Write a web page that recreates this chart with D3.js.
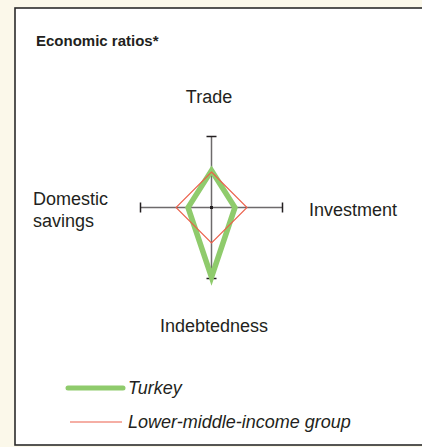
<!DOCTYPE html>
<html>
<head>
<meta charset="utf-8">
<script src="https://cdn.jsdelivr.net/npm/d3@7"></script>
<style>
  html, body { margin: 0; padding: 0; background: #fbf8ea; }
  svg { display: block; font-family: "Liberation Sans", Arial, sans-serif; }
</style>
</head>
<body>
<svg id="chart" width="422" height="447"></svg>
<script>
// data (share of axis length, 1 = end tick)
const axes = ["Trade", "Investment", "Indebtedness", "Domestic savings"];
const turkey = [0.52, 0.33, 0.98, 0.33];
const lowerMiddle = [0.5, 0.5, 0.5, 0.5];
const legendLabels = ["Turkey", "Lower-middle-income group"];

const svg = d3.select("#chart");

// white panel with dark border on left, top and bottom
svg.append("rect")
  .attr("x", 15).attr("y", 8)
  .attr("width", 430).attr("height", 437)
  .attr("fill", "#fff")
  .attr("stroke", "#2b2b2b")
  .attr("stroke-width", 1.6);

svg.append("text")
  .attr("x", 36).attr("y", 46)
  .attr("font-size", 15).attr("font-weight", "bold")
  .attr("fill", "#231f20")
  .text("Economic ratios*");

const cx = 211.5, cy = 207.5;
const r = d3.scaleLinear().domain([0, 1]).range([0, 71]);
// clockwise from top
const angle = d3.scalePoint().domain(axes).range([0, 270]);

function pt(name, v) {
  const a = angle(name) * Math.PI / 180;
  return [cx + r(v) * Math.sin(a), cy - r(v) * Math.cos(a)];
}

// axes with end caps
const g = svg.append("g");
axes.forEach(name => {
  const end = pt(name, 1);
  g.append("line")
    .attr("x1", cx).attr("y1", cy)
    .attr("x2", end[0]).attr("y2", end[1])
    .attr("stroke", "#6d6a6b").attr("stroke-width", 1.5);
  const a = angle(name) * Math.PI / 180;
  const dx = 5 * Math.cos(a), dy = 5 * Math.sin(a);
  g.append("line")
    .attr("x1", end[0] - dx).attr("y1", end[1] - dy)
    .attr("x2", end[0] + dx).attr("y2", end[1] + dy)
    .attr("stroke", "#231f20").attr("stroke-width", 1.5);
});

const line = d3.line().curve(d3.curveLinearClosed);

svg.append("path")
  .attr("d", line(axes.map((a, i) => pt(a, turkey[i]))))
  .attr("fill", "none")
  .attr("stroke", "#8fcb6c")
  .attr("stroke-width", 5.5)
  .attr("stroke-linejoin", "miter");

svg.append("path")
  .attr("d", line(axes.map((a, i) => pt(a, lowerMiddle[i]))))
  .attr("fill", "none")
  .attr("stroke", "#ec5f4a")
  .attr("stroke-width", 1.1);

svg.append("rect")
  .attr("x", cx - 1.5).attr("y", cy - 1.5)
  .attr("width", 3).attr("height", 3)
  .attr("fill", "#231f20");

// axis labels
const labelColor = "#231f20";
svg.append("text").attr("x", 209).attr("y", 103).attr("text-anchor", "middle")
  .attr("font-size", 18).attr("fill", labelColor).text(axes[0]);
svg.append("text").attr("x", 309).attr("y", 216)
  .attr("font-size", 18).attr("fill", labelColor).text(axes[1]);
svg.append("text").attr("x", 214).attr("y", 332).attr("text-anchor", "middle")
  .attr("font-size", 18).attr("fill", labelColor).text(axes[2]);
const ds = svg.append("text").attr("x", 33).attr("y", 205)
  .attr("font-size", 18).attr("fill", labelColor);
ds.append("tspan").attr("x", 33).text(axes[3].split(" ")[0]);
ds.append("tspan").attr("x", 33).attr("dy", 22).text(axes[3].split(" ")[1]);

// legend
const legend = svg.append("g");
const legendStyles = [
  { color: "#8fcb6c", width: 5, x1: 68, x2: 123, y: 388, cap: "round" },
  { color: "#ec5f4a", width: 1.1, x1: 70, x2: 122, y: 422, cap: "butt" }
];
legendLabels.forEach((lab, i) => {
  const s = legendStyles[i];
  legend.append("line")
    .attr("x1", s.x1).attr("x2", s.x2)
    .attr("y1", s.y).attr("y2", s.y)
    .attr("stroke", s.color).attr("stroke-width", s.width)
    .attr("stroke-linecap", s.cap);
  legend.append("text")
    .attr("x", 128).attr("y", s.y + 6)
    .attr("font-size", 18).attr("font-style", "italic")
    .attr("fill", labelColor)
    .text(lab);
});
</script>
</body>
</html>
